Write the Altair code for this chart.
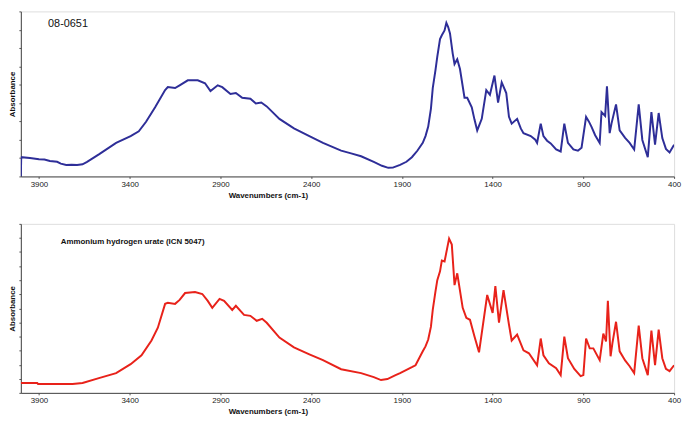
import altair as alt
import pandas as pd

# ---- Top spectrum (08-0651) ----
top_wn = [4000, 3998, 3950, 3900, 3870, 3840, 3800, 3780, 3750, 3720, 3690, 3660, 3635, 3570, 3475, 3395,
          3350, 3310, 3260, 3205, 3190, 3150, 3125, 3080, 3025, 2985, 2955, 2915, 2890, 2845, 2815,
          2780, 2735, 2705, 2675, 2645, 2575, 2495, 2410, 2335, 2235, 2180, 2125, 2055, 2010, 1975, 1950, 1910,
          1875, 1845, 1815, 1785, 1770, 1755, 1740, 1730, 1715, 1705, 1690, 1680, 1665, 1655, 1645, 1635, 1620,
          1610, 1595, 1580, 1555, 1540, 1515, 1500, 1485, 1460, 1435, 1415, 1390, 1370, 1350, 1325, 1310,
          1295, 1265, 1245, 1230, 1190, 1165, 1155, 1135, 1120, 1100, 1080, 1050, 1025, 1005, 985, 955, 930,
          910, 885, 870, 855, 835, 810, 800, 780, 770, 755, 745, 720, 700, 670, 645, 620, 595, 575, 545,
          525, 505, 485, 465, 445, 425, 400]
top_abs = [0.0, 0.105, 0.100, 0.094, 0.092, 0.084, 0.080, 0.070, 0.063, 0.064, 0.062, 0.066, 0.079, 0.120, 0.183, 0.220,
           0.246, 0.298, 0.377, 0.471, 0.487, 0.482, 0.497, 0.524, 0.524, 0.508, 0.466, 0.497, 0.487, 0.450, 0.455,
           0.429, 0.424, 0.398, 0.403, 0.382, 0.314, 0.262, 0.220, 0.183, 0.141, 0.126, 0.110, 0.079, 0.058, 0.047, 0.048, 0.063,
           0.080, 0.105, 0.140, 0.183, 0.220, 0.272, 0.370, 0.482, 0.580, 0.654, 0.749, 0.770, 0.796, 0.838, 0.815, 0.780, 0.670,
           0.613, 0.639, 0.586, 0.429, 0.429, 0.377, 0.310, 0.251, 0.314, 0.471, 0.445, 0.550, 0.403, 0.513, 0.455, 0.325,
           0.288, 0.314, 0.262, 0.236, 0.220, 0.200, 0.183, 0.288, 0.220, 0.195, 0.180, 0.147, 0.136, 0.288, 0.183, 0.147, 0.140,
           0.157, 0.325, 0.300, 0.270, 0.225, 0.183, 0.351, 0.330, 0.492, 0.236, 0.288, 0.393, 0.251, 0.210, 0.183, 0.147, 0.393, 0.199, 0.105,
           0.351, 0.173, 0.346, 0.209, 0.150, 0.131, 0.173]

# ---- Bottom spectrum (Ammonium hydrogen urate) ----
bot_wn = [4000, 3910, 3905, 3800, 3715, 3660, 3570, 3475, 3395, 3335, 3280, 3245, 3205, 3190, 3150, 3125,
          3095, 3040, 3000, 2970, 2945, 2905, 2880, 2835, 2815, 2770, 2735, 2700, 2670, 2645, 2575, 2495,
          2410, 2335, 2235, 2125, 2055, 2015, 1980, 1935, 1910, 1845, 1825, 1785, 1770, 1755, 1740, 1730, 1715, 1705, 1690,
          1680, 1665, 1640, 1625, 1610, 1595, 1565, 1545, 1525, 1500, 1475, 1430, 1400, 1385, 1365, 1340, 1310,
          1295, 1265, 1230, 1200, 1155, 1135, 1120, 1090, 1050, 1025, 1005, 985, 950, 915, 900, 885, 865, 845, 810,
          790, 775, 765, 750, 740, 720, 700, 670, 645, 620, 595, 575, 545, 525, 505, 485, 465, 445, 425, 400]
bot_abs = [0.070, 0.070, 0.063, 0.063, 0.063, 0.070, 0.105, 0.140, 0.204, 0.267, 0.372, 0.463, 0.632, 0.639, 0.632, 0.660,
           0.709, 0.716, 0.702, 0.653, 0.604, 0.667, 0.653, 0.589, 0.618, 0.554, 0.547, 0.512, 0.526, 0.498, 0.393, 0.323,
           0.274, 0.232, 0.168, 0.140, 0.112, 0.091, 0.098, 0.126, 0.140, 0.182, 0.196, 0.295, 0.330, 0.379, 0.470, 0.589, 0.720, 0.800, 0.863,
           0.940, 0.933, 1.095, 1.053, 0.765, 0.849, 0.604, 0.533, 0.519, 0.400, 0.288, 0.695, 0.568, 0.758, 0.498, 0.730, 0.484,
           0.372, 0.414, 0.302, 0.281, 0.196, 0.386, 0.267, 0.210, 0.175, 0.126, 0.400, 0.246, 0.170, 0.119, 0.126, 0.386, 0.316, 0.316, 0.232,
           0.421, 0.365, 0.653, 0.260, 0.351, 0.505, 0.295, 0.230, 0.189, 0.140, 0.477, 0.246, 0.126, 0.442, 0.196, 0.449, 0.246, 0.170, 0.154, 0.196]

x_ticks = [3900, 3400, 2900, 2400, 1900, 1400, 900, 400]
top_y_ticks = [round(i * 0.1, 1) for i in range(10)]
bot_y_ticks = [round(i * 0.1, 1) for i in range(13)]

top_label = "08-0651"
bot_label = "Ammonium hydrogen urate (ICN 5047)"

FONT = "Liberation Sans"


def panel(wn, ab, color, ymax, yticks, h, label, label_wn, label_abs, label_size, label_weight):
    df = pd.DataFrame({"wn": wn, "abs": ab, "i": list(range(len(wn)))})
    x = alt.X("wn:Q",
              scale=alt.Scale(domain=[400, 4000], reverse=True, nice=False, zero=False),
              axis=alt.Axis(title="Wavenumbers (cm-1)", values=x_ticks, format="d", grid=False,
                            labelFontSize=8, labelFont=FONT, labelColor="#222",
                            titleFontSize=8, titleFont=FONT, titleFontWeight="bold", titleColor="#111",
                            titleX=250, titlePadding=3, tickSize=2, tickColor="#555",
                            domainColor="#444", labelPadding=2, labelFlush=False))
    y = alt.Y("abs:Q",
              scale=alt.Scale(domain=[0, ymax], nice=False, zero=True),
              axis=alt.Axis(title="Absorbance", values=yticks, labels=False, labelOverlap=False,
                            grid=False, tickSize=2, tickColor="#555", domainColor="#444",
                            titleFontSize=8, titleFont=FONT, titleFontWeight="bold", titleColor="#111",
                            titlePadding=2))
    line = alt.Chart(df).mark_line(color=color, strokeWidth=2, clip=True).encode(
        x=x, y=y, order="i:Q")
    tdf = pd.DataFrame({"wn": [label_wn], "abs": [label_abs], "t": [label]})
    text = alt.Chart(tdf).mark_text(align="left", baseline="middle", font=FONT,
                                    fontSize=label_size, fontWeight=label_weight, color="#111").encode(
        x=x, y=y, text="t:N")
    return alt.layer(line, text).properties(width=661, height=h)


top = panel(top_wn, top_abs, "#2e2e98", 0.9, top_y_ticks, 167, top_label, 3850, 0.83, 11, "normal")
bot = panel(bot_wn, bot_abs, "#e8221a", 1.2, bot_y_ticks, 171, bot_label, 3780, 1.074, 8, "bold")

chart = alt.vconcat(top, bot, spacing=23).properties(padding=0).configure_view(
    stroke="#9a9a9a", strokeWidth=1).configure(background="white")

chart.save("out.html", embed_options={"renderer": "svg", "actions": False})
